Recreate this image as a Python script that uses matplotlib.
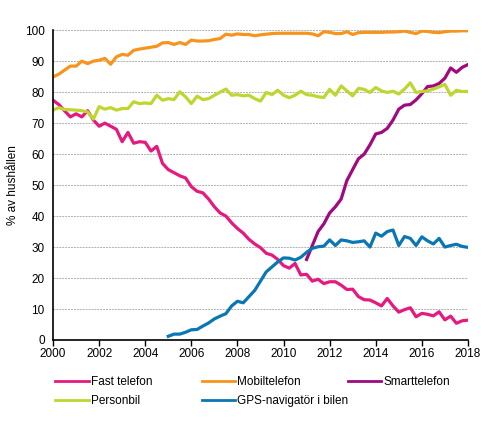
import numpy as np
import matplotlib
matplotlib.use('Agg')
import matplotlib.pyplot as plt

# Quarterly observations, 2000 Q1 .. 2018 Q1
years = 2000 + np.arange(73) * 0.25

fast_telefon = [77.4, 76, 74, 72,
                73, 72, 74, 71,
                69, 70, 69, 68,
                64, 67, 63.5, 64,
                63.8, 61, 62.5, 57,
                55, 54, 53, 52.3,
                49.5, 48, 47.5, 45.5,
                43, 41, 40, 37.8,
                36, 34.5, 32.5, 31,
                29.8, 28, 27.4, 26,
                24, 23.2, 24.7, 21,
                21.2, 19, 19.6, 18.2,
                18.8, 18.8, 17.7, 16.3,
                16.4, 14, 13, 12.9,
                12, 11, 13.4, 11,
                9, 9.8, 10.4, 7.5,
                8.6, 8.3, 7.8, 9.1,
                6.5, 7.7, 5.4, 6.2,
                6.4]

mobiltelefon = [84.9, 85.8, 87.1, 88.4,
                88.4, 90, 89.2, 90,
                90.3, 90.9, 89, 91.4,
                92.2, 91.9, 93.5, 93.9,
                94.2, 94.5, 94.8, 95.9,
                96, 95.4, 96, 95.4,
                96.8, 96.5, 96.5, 96.6,
                97, 97.3, 98.7, 98.4,
                98.8, 98.6, 98.6, 98.2,
                98.5, 98.7, 98.9, 99,
                99, 99, 99, 99,
                99, 98.8, 98.2, 99.5,
                99.3, 98.9, 98.9, 99.5,
                98.6, 99.2, 99.3, 99.3,
                99.3, 99.3, 99.4, 99.4,
                99.5, 99.7, 99.3, 98.9,
                99.7, 99.6, 99.3, 99.2,
                99.5, 99.7, 99.7, 99.8,
                99.8]

personbil = [74.2, 75, 74.4, 74.3,
             74.2, 74, 73.6, 71.3,
             75.3, 74.5, 75, 74.2,
             74.7, 74.7, 76.9, 76.3,
             76.5, 76.3, 79, 77.4,
             77.9, 77.6, 80.1, 78.5,
             76.3, 78.7, 77.6, 77.9,
             79, 80, 81, 79,
             79.2, 78.8, 79, 77.9,
             77.1, 79.9, 79.2, 80.6,
             79, 78.2, 79, 80.3,
             79.2, 79, 78.5, 78.3,
             80.9, 79, 82, 80.4,
             78.8, 81.2, 80.9, 79.9,
             81.5, 80.4, 79.9, 80.3,
             79.4, 81, 83, 79.9,
             80.2, 80.4, 81, 81.7,
             82.5, 79, 80.6, 80.2,
             80.2]

# Smarttelefon from 2011 Q1
smarttelefon = [np.nan] * 44 + [
    26, 30.5, 35, 37.5,
    41, 43, 45.5, 51.5,
    55, 58.5, 60, 63,
    66.5, 67, 68.3, 71,
    74.5, 75.8, 76, 77.5,
    79.5, 81.8, 82, 82.8,
    84.5, 87.8, 86.4, 88,
    88.9]

# GPS-navigator from 2005 Q1
gps = [np.nan] * 20 + [
    1.2, 1.9, 1.9, 2.5,
    3.3, 3.4, 4.5, 5.5,
    6.8, 7.7, 8.5, 11,
    12.5, 12, 14, 16,
    19, 22, 23.6, 25.2,
    26.5, 26.4, 25.8, 26.7,
    28.3, 29.6, 30.1, 30.3,
    32.3, 30.5, 32.3, 32,
    31.5, 31.7, 32, 30,
    34.5, 33.5, 35, 35.5,
    30.5, 33.4, 32.8, 30.5,
    33.3, 32, 31, 32.8,
    30, 30.5, 30.9, 30.2,
    29.9]

series = [
    ('Fast telefon', fast_telefon, '#E6197E'),
    ('Mobiltelefon', mobiltelefon, '#F7941D'),
    ('Smarttelefon', smarttelefon, '#A0097F'),
    ('Personbil', personbil, '#BED62F'),
    ('GPS-navigatör i bilen', gps, '#0A76B4'),
]

plt.rcParams['font.family'] = ['Liberation Sans', 'DejaVu Sans']

fig = plt.figure(figsize=(4.91, 4.25), dpi=100)
ax = fig.add_axes([0.108, 0.2, 0.845, 0.729])

lines = {}
for label, vals, color in series:
    ln, = ax.plot(years, vals, color=color, lw=2.3, label=label, solid_joinstyle='round')
    lines[label] = ln

ax.set_xlim(2000, 2018)
ax.set_ylim(0, 100)
ax.set_xticks(range(2000, 2019, 2))
ax.set_yticks(range(0, 101, 10))
ax.tick_params(axis='x', direction='out', length=4, width=1, labelsize=8.5, pad=2, color='black')
ax.tick_params(axis='y', length=0, labelsize=8.5, pad=6)
ax.grid(axis='y', color='#b0b0b0', linestyle=(0, (2, 1)), linewidth=0.7)
ax.set_axisbelow(True)
for s in ['top', 'right']:
    ax.spines[s].set_visible(False)
for s in ['left', 'bottom']:
    ax.spines[s].set_linewidth(1.2)
    ax.spines[s].set_color('black')

ax.set_ylabel('% av hushållen', fontsize=8.5, labelpad=4)

# legend: three columns placed like the original
columns = [(['Fast telefon', 'Personbil'], 0.113),
           (['Mobiltelefon', 'GPS-navigatör i bilen'], 0.411),
           (['Smarttelefon'], 0.709)]
for names, xpos in columns:
    leg = fig.legend([lines[n] for n in names], names, loc='upper left',
                     bbox_to_anchor=(xpos, 0.116), ncol=1, frameon=False,
                     fontsize=8.5, handlelength=2.8, handletextpad=0.2,
                     labelspacing=0.6, borderaxespad=0, borderpad=0)
    for line in leg.get_lines():
        line.set_linewidth(2)

fig.savefig('out.png', dpi=100)
